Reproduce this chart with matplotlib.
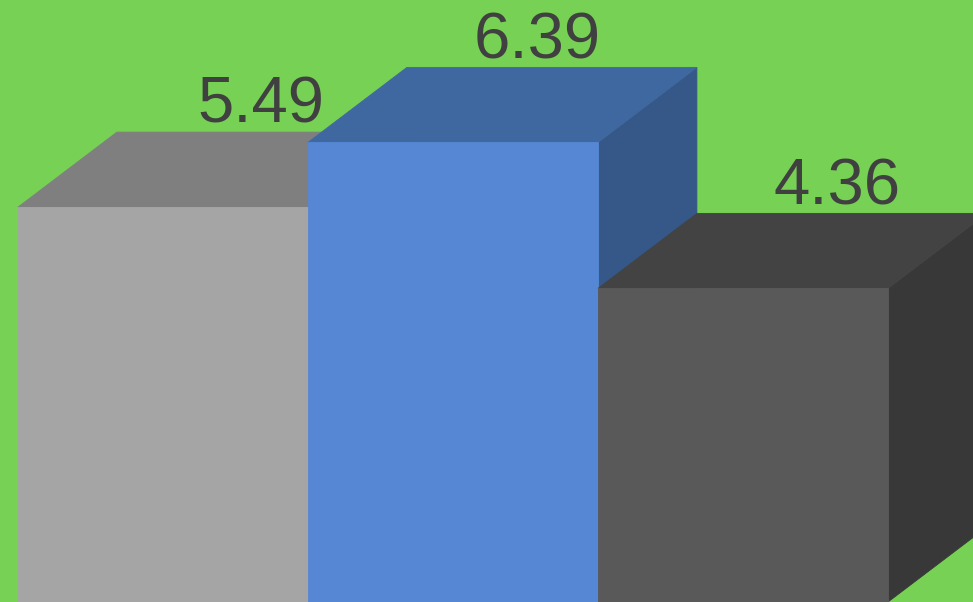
import matplotlib.pyplot as plt

# Data
categories = ['A', 'B', 'C']
values = [5.49, 6.39, 4.36]
labels = ['5.49', '6.39', '4.36']

# Face colours for each bar: front, top, side
front_colors = ['#a5a5a5', '#5587d4', '#595959']
top_colors = ['#7f7f7f', '#4068a0', '#434343']
side_colors = ['#6a6a6a', '#355888', '#383838']

bg = '#77d155'

# Fake 3D depth (data units)
depth_x = 0.341
depth_y = 1.043
bar_w = 1.0

# how far back along the depth each label sits (layout only)
label_depth = [0.99, 0.85, 0.95]

fig = plt.figure(figsize=(9.73, 6.02), dpi=100, facecolor=bg)
ax = fig.add_axes([0, 0, 1, 1])
ax.set_facecolor(bg)

for i, v in enumerate(values):
    x0 = i * bar_w
    x1 = x0 + bar_w
    # side face
    ax.fill([x1, x1 + depth_x, x1 + depth_x, x1],
            [0, depth_y, v + depth_y, v],
            color=side_colors[i], lw=0.6, zorder=3 * i + 1)
    # top face
    ax.fill([x0, x0 + depth_x, x1 + depth_x, x1],
            [v, v + depth_y, v + depth_y, v],
            color=top_colors[i], lw=0.6, zorder=3 * i + 2)
    # front face
    ax.fill([x0, x1, x1, x0], [0, 0, v, v],
            color=front_colors[i], lw=0.6, zorder=3 * i + 3)
    # value label above the back edge of the top
    ax.text(x0 + bar_w / 2 + depth_x * label_depth[i], v + depth_y + 0.13, labels[i],
            ha='center', va='baseline', fontsize=47, color='#404040',
            family=['Liberation Sans', 'DejaVu Sans'], zorder=20)

ax.set_xlim(-0.062, 3.293)
ax.set_ylim(0.0, 8.37)
ax.axis('off')

fig.savefig('out.png', dpi=100, facecolor=bg)
